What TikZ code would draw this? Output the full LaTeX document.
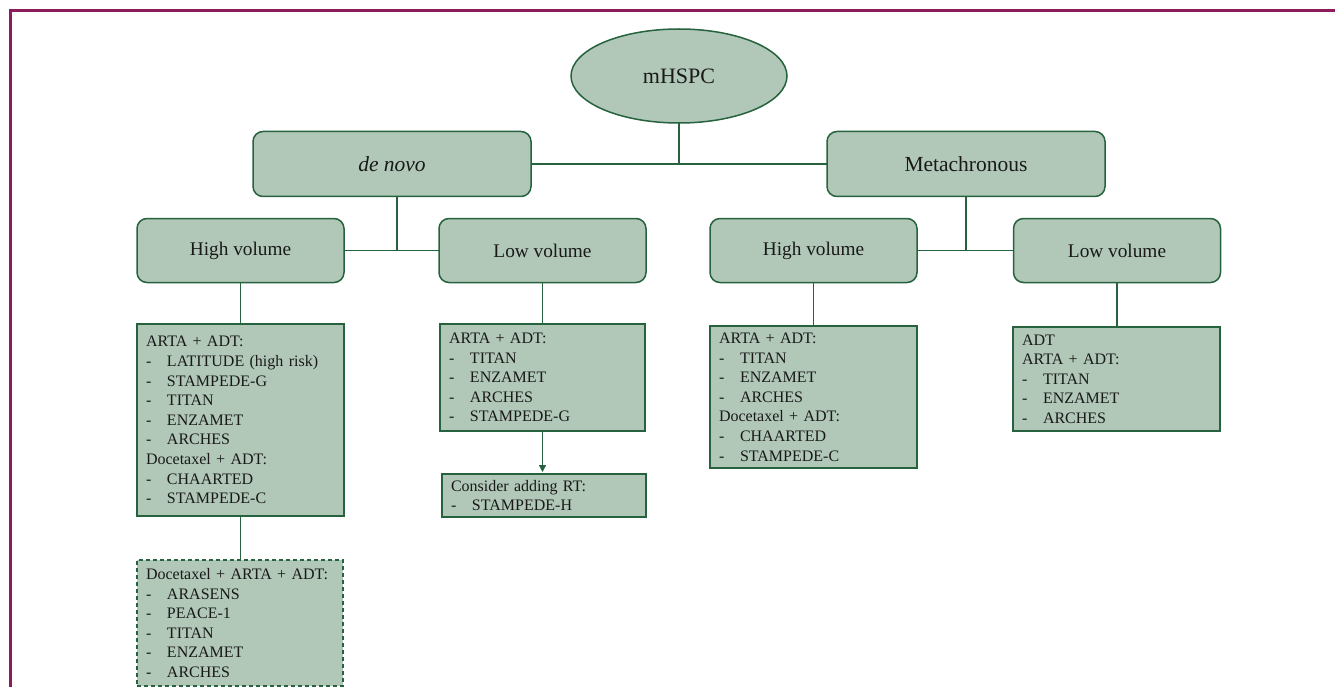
\documentclass[tikz,border=0pt]{standalone}
\usepackage{fontspec}
\setmainfont{Liberation Serif}
\usetikzlibrary{shapes.geometric,arrows.meta}
\definecolor{boxfill}{RGB}{177,200,184}
\definecolor{boxline}{RGB}{38,98,62}
\definecolor{framecol}{RGB}{140,28,92}
\definecolor{txt}{RGB}{25,25,25}
\newcommand{\itm}[1]{\makebox[21pt][l]{-}#1}
\tikzset{
  base/.style={fill=boxfill, draw=boxline, line width=1.5pt, text=txt, outer sep=0pt},
  rootnode/.style={base, ellipse, minimum width=216pt, minimum height=94pt, inner sep=0pt, font=\fontsize{22}{26}\selectfont},
  lvlone/.style={base, rectangle, rounded corners=10pt, minimum width=278pt, minimum height=65pt, inner sep=0pt, font=\fontsize{21.5}{26}\selectfont},
  lvltwo/.style={base, rectangle, rounded corners=10pt, minimum width=207pt, minimum height=64pt, inner sep=0pt, font=\fontsize{19.3}{23}\selectfont},
  listbox/.style={base, rectangle, anchor=north west, inner xsep=9pt, inner ysep=0pt, align=left, font=\fontsize{16}{19.6}\selectfont},
  dashbox/.style={listbox, dashed, dash pattern=on 4pt off 3pt},
  conn/.style={draw=boxline, line width=1.3pt},
}
\begin{document}
\begin{tikzpicture}[x=1pt,y=-1pt]
\useasboundingbox (0,0) rectangle (1335,687);
\draw[framecol, line width=3pt] (1336,11) -- (10,11) -- (10,688);

\node[rootnode] (root) at (679,76) {mHSPC};
\node[lvlone] (denovo) at (392,164) {\itshape de novo};
\node[lvlone] (meta) at (966,164) {Metachronous};

\node[lvltwo] (hvL) at (240.5,250.5) {High volume};
\node[lvltwo] (lvL) at (542.5,250.5) {Low volume};
\node[lvltwo] (hvR) at (813.5,250.5) {High volume};
\node[lvltwo] (lvR) at (1117,250.5) {Low volume};

\node[listbox, text width=189pt, minimum width=207pt, minimum height=192pt] (hvLlist) at (137,324) {ARTA + ADT:\\
\itm{LATITUDE (high risk)}\\
\itm{STAMPEDE-G}\\
\itm{TITAN}\\
\itm{ENZAMET}\\
\itm{ARCHES}\\
Docetaxel + ADT:\\
\itm{CHAARTED}\\
\itm{STAMPEDE-C}};

\node[dashbox, text width=188pt, minimum width=206pt, minimum height=126pt] (hvLtriple) at (137,560) {Docetaxel + ARTA + ADT:\\
\itm{ARASENS}\\
\itm{PEACE-1}\\
\itm{TITAN}\\
\itm{ENZAMET}\\
\itm{ARCHES}};

\node[listbox, text width=187pt, minimum width=205pt, minimum height=107pt] (lvLlist) at (440,324) {ARTA + ADT:\\
\itm{TITAN}\\
\itm{ENZAMET}\\
\itm{ARCHES}\\
\itm{STAMPEDE-G}};

\node[listbox, text width=186pt, minimum width=204pt, minimum height=43pt] (rt) at (442,474) {Consider adding RT:\\
\itm{STAMPEDE-H}};

\node[listbox, text width=189pt, minimum width=207pt, minimum height=142pt] (hvRlist) at (710,326) {ARTA + ADT:\\
\itm{TITAN}\\
\itm{ENZAMET}\\
\itm{ARCHES}\\
Docetaxel + ADT:\\
\itm{CHAARTED}\\
\itm{STAMPEDE-C}};

\node[listbox, text width=189pt, minimum width=207pt, minimum height=104pt] (lvRlist) at (1013,327) {ADT\\
ARTA + ADT:\\
\itm{TITAN}\\
\itm{ENZAMET}\\
\itm{ARCHES}};

\coordinate (jL) at (397,250.5);
\coordinate (jR) at (966,250.5);

\draw[conn] (root.south) -- (root.south |- denovo.east);
\draw[conn] (denovo.east) -- (meta.west);
\draw[conn] (denovo.south -| jL) -- (jL);
\draw[conn] (hvL.east) -- (lvL.west);
\draw[conn] (meta.south) -- (jR);
\draw[conn] (hvR.east) -- (lvR.west);

\draw[conn] (hvL.south) -- (hvL.south |- hvLlist.north);
\draw[conn] (hvLlist.south -| hvL.south) -- (hvL.south |- hvLtriple.north);
\draw[conn] (lvL.south) -- (lvL.south |- lvLlist.north);
\draw[conn, -{Triangle[length=7pt,width=7pt]}, shorten >=2pt] (lvLlist.south -| lvL.south) -- (lvL.south |- rt.north);
\draw[conn] (hvR.south) -- (hvR.south |- hvRlist.north);
\draw[conn] (lvR.south) -- (lvR.south |- lvRlist.north);
\end{tikzpicture}
\end{document}
